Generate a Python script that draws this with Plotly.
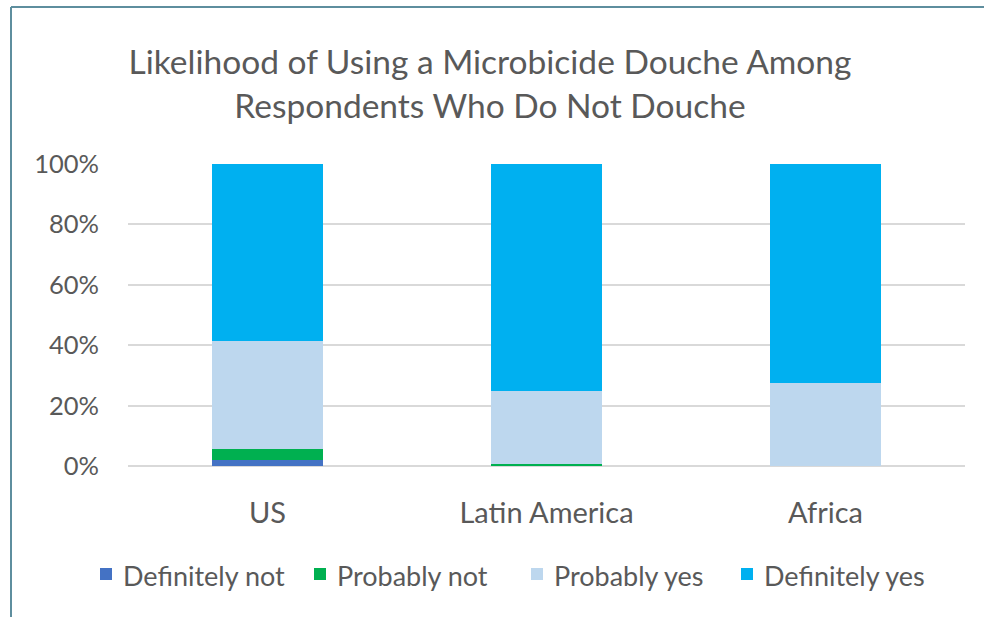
import plotly.graph_objects as go

categories = ["US", "Latin America", "Africa"]
definitely_not = [2.0, 0.0, 0.0]
probably_not = [3.5, 0.5, 0.0]
probably_yes = [36.0, 24.3, 27.5]
definitely_yes = [58.5, 75.2, 72.5]
series_names = ["Definitely not", "Probably not", "Probably yes", "Definitely yes"]
series_colors = ["#4472C4", "#00B050", "#BDD7EE", "#00B0F0"]
y_ticks = [0, 20, 40, 60, 80, 100]

W, H = 984, 617
L, R, T, B = 128, 19, 164, 151
FONT = "Lato"
TXT = "#595959"

fig = go.Figure()
for name, vals, col in zip(series_names, [definitely_not, probably_not, probably_yes, definitely_yes], series_colors):
    fig.add_trace(go.Bar(x=categories, y=[v / 100 for v in vals], name=name,
                         marker=dict(color=col, line=dict(width=0))))

pw = W - L - R
ph = H - T - B
def px_x(p):
    return (p - L) / pw
def px_y(p):
    return (H - B - p) / ph

shapes = [
    dict(type="line", xref="paper", yref="paper", x0=px_x(11), x1=px_x(11), y0=px_y(7), y1=px_y(640),
         line=dict(color="#5E8E9E", width=2)),
    dict(type="line", xref="paper", yref="paper", x0=px_x(11), x1=px_x(1000), y0=px_y(7), y1=px_y(7),
         line=dict(color="#5E8E9E", width=2)),
]
annotations = []
legend_text_x = [121, 335, 552, 762]
legend_y = 575
for name, col, tx in zip(series_names, series_colors, legend_text_x):
    shapes.append(dict(type="rect", xref="paper", yref="paper",
                       x0=px_x(tx - 21), x1=px_x(tx - 9), y0=px_y(legend_y - 7), y1=px_y(legend_y + 5),
                       fillcolor=col, line=dict(width=0)))
    annotations.append(dict(text=name, xref="paper", yref="paper", x=px_x(tx), y=px_y(legend_y),
                            xanchor="left", yanchor="middle", showarrow=False,
                            font=dict(family=FONT, size=27, color=TXT)))

fig.update_layout(
    width=W, height=H, autosize=False,
    margin=dict(l=L, r=R, t=T, b=B, pad=0, autoexpand=False),
    barmode="stack", bargap=0.605,
    paper_bgcolor="white", plot_bgcolor="white",
    font=dict(family=FONT, color=TXT),
    title=dict(text="Likelihood of Using a Microbicide Douche Among<br>Respondents Who Do Not Douche",
               x=px_x(490), xref="paper", xanchor="center", y=1 - 74 / H, yanchor="middle",
               font=dict(family=FONT, size=33.5, color=TXT)),
    showlegend=False,
    xaxis=dict(showgrid=False, showline=False, ticks="", tickangle=0, automargin=False,
               tickfont=dict(family=FONT, size=29, color=TXT), ticklabelstandoff=27),
    yaxis=dict(range=[0, 1], tickvals=[v / 100 for v in y_ticks], ticktext=[f"{v}%" for v in y_ticks],
               gridcolor="#D9D9D9", gridwidth=1.5, showline=False, zeroline=True, zerolinecolor="#D9D9D9",
               zerolinewidth=1.5, ticks="", automargin=False,
               tickfont=dict(family=FONT, size=25.5, color=TXT), ticklabelstandoff=28),
    shapes=shapes,
    annotations=annotations,
)

fig.write_html("out.html")
